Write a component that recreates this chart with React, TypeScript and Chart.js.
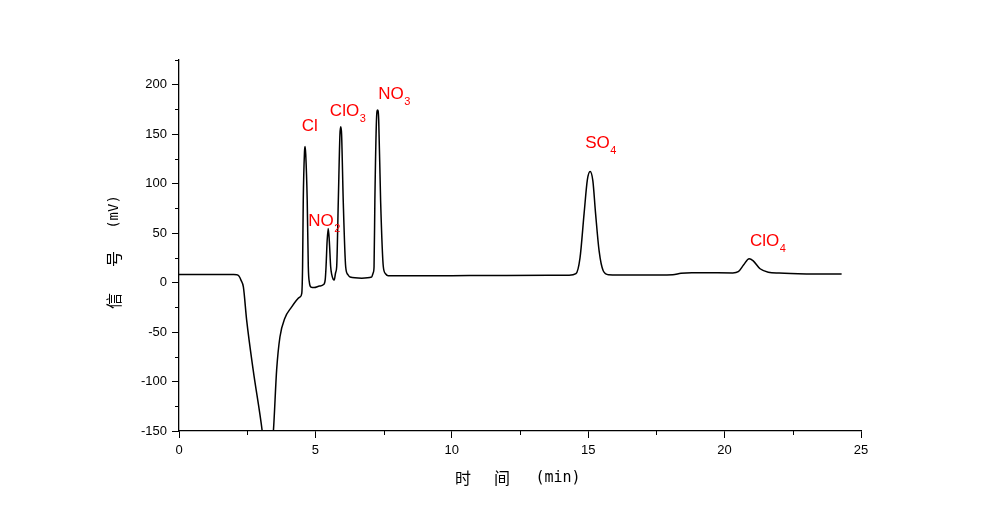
import React, { useEffect, useRef } from "react";
import { Chart, registerables } from "chart.js";

Chart.register(...registerables);

// Chromatogram trace: retention time (min) and signal (mV)
const times: number[] = [
  0.0, 1.0, 2.0, 2.12, 2.2, 2.28, 2.36, 2.48, 2.72, 3.05, 3.25, 3.46, 3.58, 3.7, 3.88, 4.13, 4.3, 4.44, 4.5,
  4.53, 4.555, 4.6, 4.62, 4.645, 4.7, 4.74, 4.78, 4.84, 4.95, 5.15, 5.3,
  5.36, 5.39, 5.43, 5.47, 5.51, 5.56, 5.6, 5.65, 5.69,
  5.74, 5.78, 5.84, 5.9, 5.93, 5.96, 6.02, 6.11, 6.19, 6.27,
  6.7, 7.06, 7.12, 7.15, 7.18, 7.24, 7.28, 7.32, 7.39, 7.49, 7.57, 7.67,
  8.0, 10.0, 12.0, 14.3, 14.55, 14.7, 14.85, 14.97, 15.07, 15.17, 15.27, 15.4, 15.55, 15.75, 16.5, 17.5,
  18.1, 18.4, 18.8, 19.5, 20.3, 20.5, 20.7, 20.9, 21.05, 21.3, 21.6, 22.0, 23.0, 24.29,
];
const signal: number[] = [
  8.2, 8.2, 8.1, 8.0, 6.5, 2, -4.4, -38, -88.5, -150, -200, -150, -88, -55, -36, -24.6, -18, -14.5, -11,
  16, 83, 132, 137.5, 130, 83, 16, 0, -4.5, -5, -3.5, -2,
  3, 16, 42, 54.8, 42, 16, 8, 3.5, 2.6,
  10, 16, 83, 150, 157.6, 150, 83, 16, 8, 5.6,
  4.5, 5.6, 10, 16, 83, 165, 174.4, 165, 83, 16, 9, 7,
  6.8, 7, 7.2, 7.4, 9, 25, 70, 104, 112.3, 103, 70, 32, 12, 8, 7.6, 7.8,
  8, 9.5, 10, 9.9, 9.8, 11, 18, 24.2, 22, 14, 10.5, 9.6, 8.8, 8.6,
];

// Axis ticks
const xMajorTicks: number[] = [0, 5, 10, 15, 20, 25];
const xMinorTicks: number[] = [2.5, 7.5, 12.5, 17.5, 22.5];
const yMajorTicks: number[] = [-150, -100, -50, 0, 50, 100, 150, 200];
const yMinorTicks: number[] = [-125, -75, -25, 25, 75, 125, 175, 225];

// Peak labels (anchored in data units: time of label start, signal at baseline)
const labelNames: string[] = ["Cl", "NO", "ClO", "NO", "SO", "ClO"];
const labelSubs: string[] = ["", "2", "3", "3", "4", "4"];
const labelTimes: number[] = [4.5, 4.74, 5.53, 7.3, 14.89, 20.93];
const labelValues: number[] = [153, 57, 168, 185.6, 136, 37];

const FONT = "'Liberation Sans', Arial, sans-serif";
const CJK = "'Noto Sans CJK SC', sans-serif";
const MONO = "'DejaVu Sans Mono', monospace";

const extrasPlugin = {
  id: "extras",
  afterDraw(chart: any) {
    const ctx = chart.ctx as CanvasRenderingContext2D;
    const xs = chart.scales.x;
    const ys = chart.scales.y;
    const area = chart.chartArea;
    ctx.save();
    // minor ticks
    ctx.strokeStyle = "#000";
    ctx.lineWidth = 1;
    ctx.beginPath();
    for (const v of yMinorTicks) {
      const py = Math.round(ys.getPixelForValue(v)) + 0.5;
      ctx.moveTo(area.left - 4, py);
      ctx.lineTo(area.left, py);
    }
    for (const v of xMinorTicks) {
      const px = Math.round(xs.getPixelForValue(v)) + 0.5;
      ctx.moveTo(px, area.bottom);
      ctx.lineTo(px, area.bottom + 4);
    }
    ctx.stroke();

    // peak labels
    ctx.fillStyle = "#ff0000";
    ctx.textBaseline = "alphabetic";
    ctx.textAlign = "left";
    for (let i = 0; i < labelNames.length; i++) {
      const px = xs.getPixelForValue(labelTimes[i]);
      const py = ys.getPixelForValue(labelValues[i]);
      ctx.font = `17px ${FONT}`;
      ctx.fillText(labelNames[i], px, py);
      const w = ctx.measureText(labelNames[i]).width;
      if (labelSubs[i]) {
        ctx.font = `11px ${FONT}`;
        ctx.fillText(labelSubs[i], px + w + 0.5, py + 6);
      }
    }

    // axis titles
    ctx.fillStyle = "#000";
    ctx.textAlign = "center";
    ctx.textBaseline = "middle";
    ctx.font = `16px ${CJK}`;
    ctx.fillText("时", 463, 478);
    ctx.fillText("间", 502, 478);
    ctx.font = `15px ${MONO}`;
    ctx.fillText("(min)", 558, 478);

    ctx.translate(114, 253);
    ctx.rotate(-Math.PI / 2);
    ctx.font = `16px ${CJK}`;
    ctx.fillText("信", -48, 0);
    ctx.fillText("号", -6, 0);
    ctx.font = `14px ${MONO}`;
    ctx.fillText("(mV)", 41, 0);
    ctx.restore();
  },
};

export default function App() {
  const canvasRef = useRef<HTMLCanvasElement | null>(null);

  useEffect(() => {
    if (!canvasRef.current) return;
    const points = times.map((t, i) => ({ x: t, y: signal[i] }));
    const chart = new Chart(canvasRef.current, {
      type: "line",
      data: {
        datasets: [
          {
            data: points,
            borderColor: "#000",
            borderWidth: 1.5,
            pointRadius: 0,
            cubicInterpolationMode: "monotone",
            fill: false,
            clip: 0,
          } as any,
        ],
      },
      options: {
        animation: false,
        responsive: true,
        maintainAspectRatio: false,
        devicePixelRatio: 1,
        layout: { padding: { top: 60, right: 139, left: 0, bottom: 0 } },
        plugins: { legend: { display: false }, tooltip: { enabled: false }, title: { display: false } },
        scales: {
          x: {
            type: "linear",
            min: 0,
            max: 25,
            afterBuildTicks: (scale: any) => {
              scale.ticks = xMajorTicks.map((v) => ({ value: v }));
            },
            afterFit: (scale: any) => {
              scale.height = 86;
            },
            ticks: {
              color: "#000",
              font: { family: FONT, size: 13 },
              padding: 5,
              maxRotation: 0,
              callback: (v: any) => String(v),
            },
            grid: { drawOnChartArea: false, drawTicks: true, tickLength: 7, tickColor: "#000", tickWidth: 1 },
            border: { display: true, color: "#000", width: 1.3 },
          },
          y: {
            type: "linear",
            min: -150,
            max: 225,
            afterBuildTicks: (scale: any) => {
              scale.ticks = yMajorTicks.map((v) => ({ value: v }));
            },
            afterFit: (scale: any) => {
              scale.width = 179;
            },
            ticks: {
              color: "#000",
              font: { family: FONT, size: 13 },
              padding: 5,
              callback: (v: any) => String(v),
            },
            grid: { drawOnChartArea: false, drawTicks: true, tickLength: 7, tickColor: "#000", tickWidth: 1 },
            border: { display: true, color: "#000", width: 1.3 },
          },
        },
      },
      plugins: [extrasPlugin],
    });
    return () => chart.destroy();
  }, []);

  return (
    <div style={{ position: "fixed", left: 0, top: 0, width: 1000, height: 517, background: "#fff" }}>
      <canvas ref={canvasRef} />
    </div>
  );
}
